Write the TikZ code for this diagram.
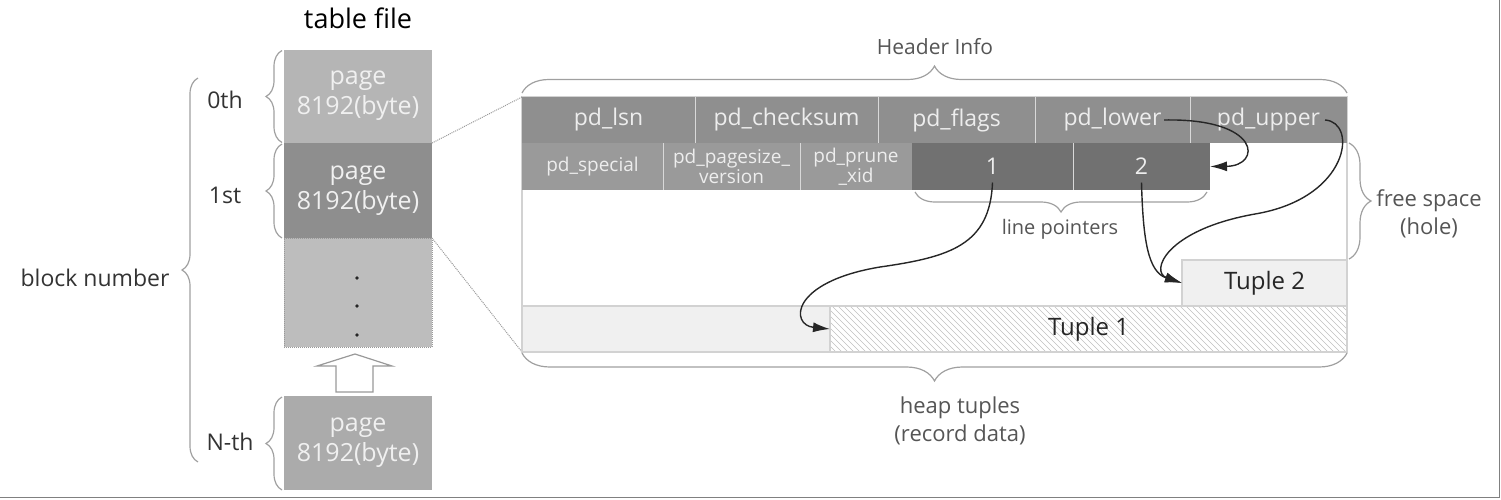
\documentclass[tikz,border=0pt]{standalone}
\usepackage{fontspec}
\setmainfont{Open Sans}
\usetikzlibrary{decorations.pathreplacing,arrows.meta}
\definecolor{pgA}{HTML}{B5B5B5}
\definecolor{pgB}{HTML}{8E8E8E}
\definecolor{pgC}{HTML}{BDBDBD}
\definecolor{pgN}{HTML}{ABABAB}
\definecolor{hdA}{HTML}{8F8F8F}
\definecolor{hdB}{HTML}{9A9A9A}
\definecolor{lp}{HTML}{717171}
\definecolor{lbl}{HTML}{555555}
\definecolor{brc}{HTML}{A0A0A0}
\definecolor{tup}{HTML}{F0F0F0}
\begin{document}
\begin{tikzpicture}[x=1pt,y=-1pt,
  box/.style={inner sep=0pt,outer sep=0pt,draw=none,align=center},
  pagebox/.style={box,text=white!94!black,font=\fontsize{25}{30}\selectfont,minimum width=148pt},
  hcell/.style={box,fill=hdA,text=white!93!black,font=\fontsize{23}{24}\selectfont,minimum height=46pt},
  scell/.style={box,fill=hdB,text=white!93!black,font=\fontsize{19}{20}\selectfont,minimum height=47pt},
  pcell/.style={box,fill=lp,text=white!93!black,font=\fontsize{23}{24}\selectfont,minimum height=47pt},
  lab/.style={inner sep=0pt,text=lbl,font=\fontsize{22}{28}\selectfont,align=center},
  blab/.style={inner sep=0pt,text=black!80,font=\fontsize{23}{28}\selectfont},
  brace/.style={decorate,decoration={brace,amplitude=#1},draw=brc,line width=1.2pt},
  ptr/.style={draw=black!85,line width=1.4pt,-{Latex[length=17pt,width=10pt]}},
  sep/.style={draw=white!70!gray,line width=0.6pt}]
\useasboundingbox (0,0) rectangle (1501,499);
% frame lines
\draw[gray,line width=1.5pt] (0,497.5) -- (1499.5,497.5) -- (1499.5,0);

% ---------- table file ----------
\node[inner sep=0pt,font=\fontsize{27}{30}\selectfont] (title) at (358,18) {table file};
\node[pagebox,fill=pgA,minimum height=93pt] (p0) at (358,96) {page\\8192(byte)};
\node[pagebox,fill=pgB,minimum height=95pt] (p1) at (358,190.5) {page\\8192(byte)};
\node[pagebox,fill=pgC,draw=gray!80,densely dotted,line width=1pt,minimum height=109pt] (pd) at (358,292.5) {};
\foreach \yy in {278,306,335} \fill[black!85] (357,\yy) circle (1.8pt);
\node[pagebox,fill=pgN,minimum height=94pt] (pN) at (358,443) {page\\8192(byte)};
\draw[gray!80,fill=white,line width=1.2pt] (336,392) -- (336,366) -- (317,366) -- (355,354) -- (392,366) -- (373,366) -- (373,392) -- cycle;

\draw[brace=16pt] (p0.south west) ++(-2,0) -- ++(0,-92);
\draw[brace=16pt] (p1.south west) ++(-2,0) -- ++(0,-94);
\draw[brace=16pt] (pN.south west) ++(-2,0) -- ++(0,-93);
\draw[brace=16pt] (198,462) -- (198,78);
\node[blab] (l0) at (225,100) {0th};
\node[blab] (l1) at (225,195) {1st};
\node[blab] (lN) at (230,442) {N-th};
\node[blab] (bn) at (95,278) {block number};

% ---------- page layout ----------
\node[box,draw=white!65!gray,line width=1.2pt,minimum width=825pt,minimum height=255pt] (pg) at (934.5,224.5) {};
\draw[densely dotted,gray!80,line width=1pt] (p1.north east) -- (pg.north west);
\draw[densely dotted,gray!80,line width=1pt] (p1.south east) -- (pg.south west);

\node[hcell,minimum width=173pt] (lsn) at (608.5,120) {pd\_lsn};
\node[hcell,minimum width=183pt] (cks) at (786.5,120) {pd\_checksum};
\node[hcell,minimum width=157pt] (flg) at (956.5,120) {pd\_flags};
\node[hcell,minimum width=155pt] (low) at (1112.5,120) {pd\_lower};
\node[hcell,minimum width=157pt] (upp) at (1268.5,120) {pd\_upper};
\node[scell,minimum width=141pt] (spc) at (592.5,166.5) {pd\_special};
\node[scell,minimum width=137pt] (psv) at (731.5,166.5) {pd\_pagesize\_\\version};
\node[scell,minimum width=112pt] (prx) at (856,166.5) {pd\_prune\\\_xid};
\node[pcell,minimum width=161pt] (lp1) at (992.5,166.5) {1};
\node[pcell,minimum width=137pt] (lp2) at (1141.5,166.5) {2};
\foreach \a in {lsn,cks,flg,low,spc,psv,lp1}
  \draw[sep] (\a.north east) -- (\a.south east);

% tuples
\node[box,fill=tup,draw=white!65!gray,line width=1.2pt,minimum width=308pt,minimum height=46pt] (fr) at (676,329) {};
\node[box,draw=white!65!gray,line width=1.2pt,minimum width=517pt,minimum height=46pt] (t1) at (1088.5,329) {};
\begin{scope}
  \clip (t1.north west) rectangle (t1.south east);
  \foreach \i in {784,790,...,1347}
    \draw[gray!50,line width=0.6pt] (\i,306) -- (\i+46,352);
\end{scope}
\node[box,draw=white!65!gray,line width=1.2pt,minimum width=517pt,minimum height=46pt,font=\fontsize{24}{26}\selectfont,text=black!85] (t1l) at (1088.5,329) {Tuple 1};
\node[box,fill=tup,draw=white!65!gray,line width=1.2pt,minimum width=165pt,minimum height=46pt,font=\fontsize{24}{26}\selectfont,text=black!85] (t2) at (1264.5,283) {Tuple 2};

% braces
\draw[brace=27pt] (522,93) -- (1347,93);
\node[lab,font=\fontsize{21}{28}\selectfont] (hi) at (935,47) {Header Info};
\draw[brace=20pt] (1207,192) -- (915,192);
\node[lab,font=\fontsize{20}{28}\selectfont] (lpl) at (1060,229) {line pointers};
\draw[brace=22pt] (1349,143) -- (1349,259);
\node[lab] (fs) at (1429,214) {free space\\(hole)};
\draw[brace=28pt] (1347,353) -- (522,353);
\node[lab] (ht) at (960,421) {heap tuples\\(record data)};

% pointers
\draw[ptr] ([xshift=-26pt]low.east) .. controls (1262,118) and (1262,166) .. (lp2.east);
\draw[ptr] ([xshift=-22pt]upp.east) .. controls (1358,122) and (1350,198) .. (1255,214)
           .. controls (1165,230) and (1150,272) .. (t2.west);
\draw[ptr] ([yshift=-16pt]lp2.center) .. controls (1143,240) and (1148,272) .. (t2.west);
\draw[ptr] ([yshift=-16pt]lp1.center) .. controls (990,245) and (950,257) .. (880,267)
           .. controls (790,282) and (790,325) .. (t1.west);
\end{tikzpicture}
\end{document}
